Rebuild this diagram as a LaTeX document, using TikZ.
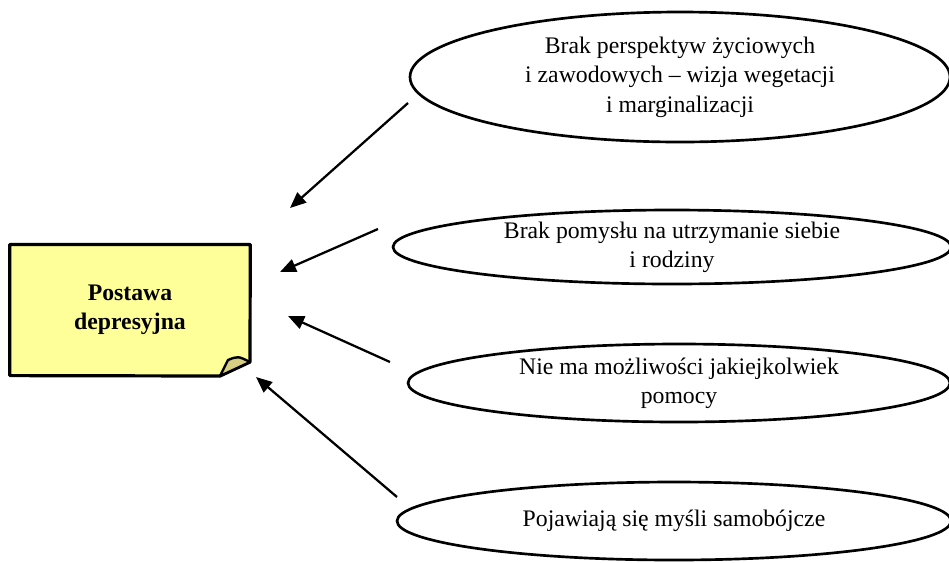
\documentclass[tikz,border=0pt]{standalone}
\usepackage{fontspec}
\setmainfont{Liberation Serif}
\usetikzlibrary{shapes.geometric,arrows.meta}
\definecolor{noteyellow}{RGB}{255,255,153}
\definecolor{notefold}{RGB}{214,206,130}
\tikzset{
  cause/.style={ellipse, draw, line width=2pt, inner sep=0pt, align=center,
    font=\fontsize{17.8}{22}\selectfont},
  notetext/.style={rectangle, inner sep=0pt, align=center,
    font=\fontsize{17.8}{22}\selectfont\bfseries},
  link/.style={line width=1.7pt, -{Triangle[length=12pt,width=10pt]}}
}
\begin{document}
\begin{tikzpicture}[x=0.75pt,y=-0.75pt]
\useasboundingbox (0,0) rectangle (949,562);

% sticky note with a folded corner
\node[notetext, minimum width=180pt, minimum height=98pt] (note) at (130,310) {};
\coordinate (foldR) at (250,362);
\coordinate (foldB) at (220,376);
\coordinate (foldT) at (228,360);
\path[fill=noteyellow, draw, line width=2.4pt, line join=round]
  (note.north west) -- (note.north east) -- (foldR) -- (foldB) -- (note.south west) -- cycle;
\path[fill=notefold, draw, line width=1.8pt, line join=round]
  (foldB) -- (foldT) .. controls (238,356) .. (foldR) -- cycle;
\node[notetext] (notelabel) at (note.center) {Postawa\\depresyjna};

% causes
\node[cause, minimum width=405pt, minimum height=97.5pt] (c1) at (680,77)
  {Brak perspektyw życiowych\\i zawodowych – wizja wegetacji\\i marginalizacji};
\node[cause, minimum width=418.5pt, minimum height=55.5pt] (c2) at (672,247)
  {Brak pomysłu na utrzymanie siebie\\i rodziny};
\node[cause, minimum width=406.5pt, minimum height=58.5pt] (c3) at (679,383)
  {Nie ma możliwości jakiejkolwiek\\pomocy};
\node[cause, minimum width=415.5pt, minimum height=58.5pt] (c4) at (674,521)
  {Pojawiają się myśli samobójcze};

% arrows towards the note
\coordinate (s1) at (408,103); \coordinate (e1) at (290,208);
\coordinate (s2) at (378,229); \coordinate (e2) at (280,272);
\coordinate (s3) at (390,362); \coordinate (e3) at (288,316);
\coordinate (s4) at (397,497); \coordinate (e4) at (256,377);
\draw[link] (s1) -- (e1);
\draw[link] (s2) -- (e2);
\draw[link] (s3) -- (e3);
\draw[link] (s4) -- (e4);
\end{tikzpicture}
\end{document}
